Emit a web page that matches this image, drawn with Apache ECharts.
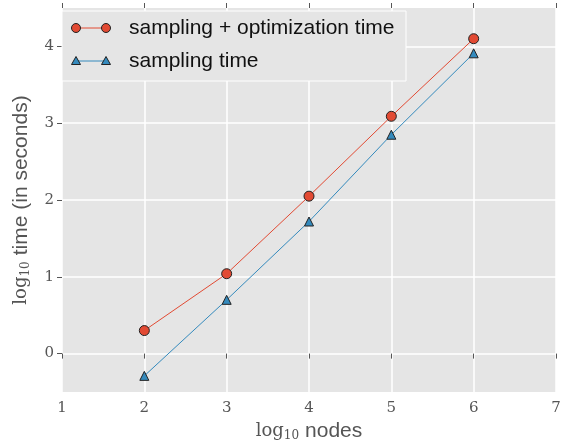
<!DOCTYPE html>
<html><head><meta charset="utf-8">
<script src="https://cdn.jsdelivr.net/npm/echarts@6/dist/echarts.min.js"></script>
<style>html,body{margin:0;padding:0;background:#fff}#c{width:566px;height:440px}</style>
</head><body><div id="c"></div>
<script>
const nodesLog = [2, 3, 4, 5, 6];
const totalTime = [0.30, 1.04, 2.05, 3.09, 4.10];
const samplingTime = [-0.29, 0.70, 1.72, 2.85, 3.91];
const yTickValues = [0, 1, 2, 3, 4];
const seriesNames = ['sampling + optimization time', 'sampling time'];

const RED = '#E24A33', BLUE = '#348ABD';
const serif = '"DejaVu Serif", "Liberation Serif", serif';
const sans = '"Liberation Sans", Arial, sans-serif';

const chart = echarts.init(document.getElementById('c'));
const tickLabel = {color: '#555', fontFamily: serif, fontSize: 15};
const nameRich = {
  log: {fontFamily: serif, fontSize: 18, color: '#555'},
  sub: {fontFamily: serif, fontSize: 12, color: '#555', verticalAlign: 'bottom', padding: [8, 6, 0, 0]},
  t: {fontFamily: sans, fontSize: 21, color: '#555'}
};
chart.setOption({
  animation: false,
  grid: {left: 62, right: 10, top: 8, bottom: 48, show: true, backgroundColor: '#E5E5E5', borderWidth: 0,
         containLabel: false, outerBoundsMode: 'none'},
  xAxis: [{
    type: 'value', min: 1, max: 7, interval: 1, position: 'bottom',
    axisLine: {show: false},
    axisTick: {show: true, length: 5, lineStyle: {color: '#555'}},
    axisLabel: Object.assign({margin: 9}, tickLabel),
    splitLine: {show: true, lineStyle: {color: '#fff', width: 1.5}},
    name: '{log|log}{sub|10}{t|nodes}', nameLocation: 'middle', nameGap: 26,
    nameTextStyle: {rich: nameRich}
  }, {
    type: 'value', min: 1, max: 7, interval: 1, position: 'top',
    axisLine: {show: false},
    axisTick: {show: true, length: 5, lineStyle: {color: '#555'}},
    axisLabel: {show: false}, splitLine: {show: false}
  }],
  yAxis: {
    type: 'value', min: -0.5, max: 4.5, interval: 0.5,
    axisLine: {show: false},
    axisTick: {show: true, length: 5, customValues: yTickValues, lineStyle: {color: '#555'}},
    axisLabel: Object.assign({margin: 8, customValues: yTickValues}, tickLabel),
    splitLine: {show: true, lineStyle: {color: '#fff', width: 1.5}},
    name: '{log|log}{sub|10}{t|time (in seconds)}', nameLocation: 'middle', nameGap: 30, nameRotate: 90,
    nameTextStyle: {rich: nameRich}
  },
  series: [{
    name: seriesNames[0], type: 'line', z: 3,
    data: nodesLog.map((x, i) => [x, totalTime[i]]),
    symbol: 'circle', symbolSize: 10,
    lineStyle: {color: RED, width: 1},
    itemStyle: {color: RED, borderColor: '#222', borderWidth: 1}
  }, {
    name: seriesNames[1], type: 'line', z: 3,
    data: nodesLog.map((x, i) => [x, samplingTime[i]]),
    symbol: 'triangle', symbolSize: 9,
    lineStyle: {color: BLUE, width: 1},
    itemStyle: {color: BLUE, borderColor: '#222', borderWidth: 1}
  }],
  graphic: [
    {type: 'rect', shape: {x: 62, y: 11, width: 344, height: 70}, style: {fill: '#E5E5E5', stroke: '#fff', lineWidth: 1}, z: 10},
    {type: 'line', shape: {x1: 76, y1: 28, x2: 106, y2: 28}, style: {stroke: RED, lineWidth: 1}, z: 11},
    {type: 'circle', shape: {cx: 76, cy: 28, r: 4.5}, style: {fill: RED, stroke: '#222', lineWidth: 1}, z: 12},
    {type: 'circle', shape: {cx: 106, cy: 28, r: 4.5}, style: {fill: RED, stroke: '#222', lineWidth: 1}, z: 12},
    {type: 'text', x: 129, y: 28, style: {text: seriesNames[0], fontFamily: sans, fontSize: 21, fill: '#111', verticalAlign: 'middle'}, z: 12},
    {type: 'line', shape: {x1: 76, y1: 61, x2: 106, y2: 61}, style: {stroke: BLUE, lineWidth: 1}, z: 11},
    {type: 'polygon', shape: {points: [[76, 56.5], [80.5, 64.5], [71.5, 64.5]]}, style: {fill: BLUE, stroke: '#222', lineWidth: 1}, z: 12},
    {type: 'polygon', shape: {points: [[106, 56.5], [110.5, 64.5], [101.5, 64.5]]}, style: {fill: BLUE, stroke: '#222', lineWidth: 1}, z: 12},
    {type: 'text', x: 129, y: 61, style: {text: seriesNames[1], fontFamily: sans, fontSize: 21, fill: '#111', verticalAlign: 'middle'}, z: 12}
  ]
});
</script></body></html>
